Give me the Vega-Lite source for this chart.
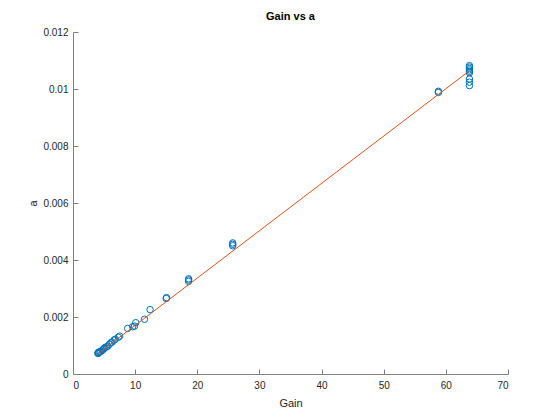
{
  "$schema": "https://vega.github.io/schema/vega-lite/v6.json",
  "autosize": {"type": "none"},
  "width": 435,
  "height": 342,
  "padding": {"left": 73, "top": 32, "right": 52, "bottom": 46},
  "background": "white",
  "title": {"text": "Gain vs a", "font": "Liberation Sans", "fontSize": 11, "fontWeight": "bold", "color": "#000000", "offset": 5},
  "config": {
    "view": {"stroke": null},
    "axis": {
      "labelFont": "Liberation Sans", "titleFont": "Liberation Sans",
      "labelFontSize": 10, "titleFontSize": 11, "titleFontWeight": "normal",
      "labelColor": "#262626", "titleColor": "#262626",
      "domainColor": "#808080", "tickColor": "#808080",
      "grid": false, "tickSize": -5
    }
  },
  "datasets": {
    "pts": [
      {"Gain": 4.0, "a": 0.00072}, {"Gain": 4.05, "a": 0.00075}, {"Gain": 4.1, "a": 0.00073},
      {"Gain": 4.2, "a": 0.00077}, {"Gain": 4.35, "a": 0.00078}, {"Gain": 4.5, "a": 0.0008},
      {"Gain": 4.7, "a": 0.00083}, {"Gain": 4.9, "a": 0.00087}, {"Gain": 5.0, "a": 0.0009},
      {"Gain": 5.15, "a": 0.00093}, {"Gain": 5.4, "a": 0.00095}, {"Gain": 5.6, "a": 0.00098},
      {"Gain": 5.85, "a": 0.00104}, {"Gain": 6.1, "a": 0.0011}, {"Gain": 6.3, "a": 0.00112},
      {"Gain": 6.6, "a": 0.00119}, {"Gain": 6.8, "a": 0.00122}, {"Gain": 7.3, "a": 0.00129},
      {"Gain": 7.5, "a": 0.00133}, {"Gain": 8.8, "a": 0.0016}, {"Gain": 9.6, "a": 0.00166},
      {"Gain": 9.9, "a": 0.00168}, {"Gain": 10.1, "a": 0.0018}, {"Gain": 11.5, "a": 0.00192},
      {"Gain": 12.4, "a": 0.00226}, {"Gain": 15.0, "a": 0.00265}, {"Gain": 15.05, "a": 0.00268},
      {"Gain": 18.6, "a": 0.00325}, {"Gain": 18.6, "a": 0.0033}, {"Gain": 18.6, "a": 0.00334},
      {"Gain": 25.7, "a": 0.0045}, {"Gain": 25.7, "a": 0.00455}, {"Gain": 25.7, "a": 0.0046},
      {"Gain": 58.8, "a": 0.00988}, {"Gain": 58.8, "a": 0.00992},
      {"Gain": 63.8, "a": 0.01082}, {"Gain": 63.8, "a": 0.01077}, {"Gain": 63.8, "a": 0.01072},
      {"Gain": 63.8, "a": 0.01067}, {"Gain": 63.8, "a": 0.01062}, {"Gain": 63.8, "a": 0.01057},
      {"Gain": 63.8, "a": 0.01035}, {"Gain": 63.8, "a": 0.01024}, {"Gain": 63.8, "a": 0.01012}
    ],
    "fit": [
      {"Gain": 4.0, "a": 0.00071},
      {"Gain": 63.8, "a": 0.01064}
    ]
  },
  "layer": [
    {
      "data": {"name": "pts"},
      "mark": {"type": "point", "shape": "circle", "filled": false, "color": "#0072BD", "strokeWidth": 1, "size": 42, "opacity": 1},
      "encoding": {
        "x": {"field": "Gain", "type": "quantitative", "scale": {"domain": [0, 70], "nice": false},
              "axis": {"values": [0, 10, 20, 30, 40, 50, 60, 70], "title": "Gain", "titlePadding": 7, "labelPadding": 11}},
        "y": {"field": "a", "type": "quantitative", "scale": {"domain": [0, 0.012], "nice": false},
              "axis": {"values": [0, 0.002, 0.004, 0.006, 0.008, 0.01, 0.012], "format": "~g", "title": "a", "titlePadding": 4, "labelPadding": 10}}
      }
    },
    {
      "data": {"name": "fit"},
      "mark": {"type": "line", "color": "#D95319", "strokeWidth": 1},
      "encoding": {
        "x": {"field": "Gain", "type": "quantitative"},
        "y": {"field": "a", "type": "quantitative"}
      }
    }
  ]
}
